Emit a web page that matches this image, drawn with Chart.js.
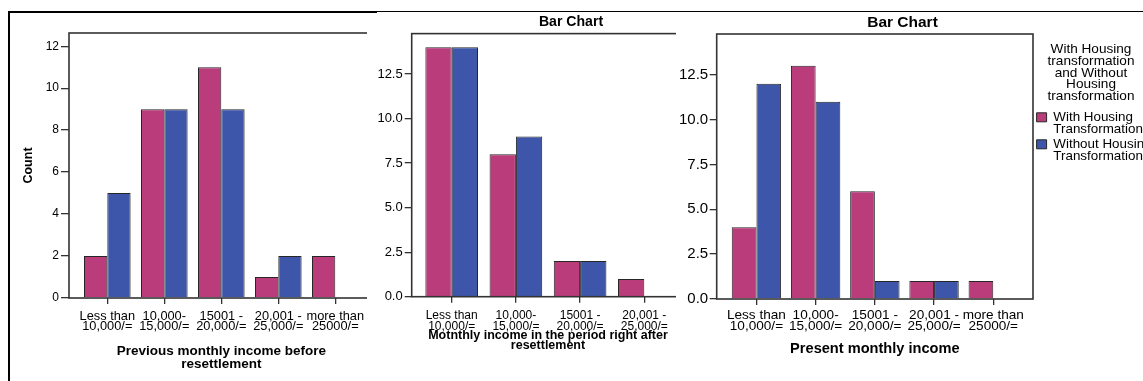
<!DOCTYPE html>
<html>
<head>
<meta charset="utf-8">
<script src="https://cdn.jsdelivr.net/npm/chart.js@4.4.1/dist/chart.umd.min.js"></script>
<style>
html, body { margin: 0; padding: 0; background: #fff; }
body { width: 1143px; height: 381px; overflow: hidden; position: relative; }
.pane { position: absolute; background: #fff; overflow: hidden; }
canvas { position: absolute; display: block; }
.line { position: absolute; background: #000; z-index: 10; }
</style>
</head>
<body>
<div class="pane" style="left:10px;top:13px;width:366px;height:368px;z-index:1"><canvas id="c1" width="366" height="368" style="left:0;top:0"></canvas></div>
<div class="pane" style="left:367px;top:13px;width:408px;height:368px;z-index:2"><canvas id="c2" width="408" height="368" style="left:0;top:0"></canvas></div>
<div class="pane" style="left:676px;top:13px;width:467px;height:368px;z-index:3"><canvas id="c3" width="493" height="368" style="left:-20px;top:0"></canvas></div>
<div class="line" style="left:8px;top:11px;width:2px;height:370px"></div>
<div class="line" style="left:8px;top:11px;width:369px;height:2px"></div>
<div class="line" style="left:377px;top:11px;width:766px;height:1px"></div>
<script>
// ---- Data ----
const incomeCategories5 = [
  ['Less than', '10,000/='],
  ['10,000-', '15,000/='],
  ['15001 -', '20,000/='],
  ['20,001 -', '25,000/='],
  ['more than', '25000/=']
];
const incomeCategories4 = [
  ['Less than', '10,000/='],
  ['10,000-', '15,000/='],
  ['15001 -', '20,000/='],
  ['20,001 -', '25,000/=']
];
const seriesNames = ['With Housing Transformation', 'Without Housing Transformation'];
const legendLines = [['With Housing', 'Transformation'], ['Without Housing', 'Transformation']];
const legendTitle = ['With Housing', 'transformation', 'and Without', 'Housing', 'transformation'];

const previousWith    = [2, 9, 11, 1, 2];
const previousWithout = [5, 9, 9, 2, null];
const afterWith       = [14, 8, 2, 1];
const afterWithout    = [14, 9, 2, null];
const presentWith     = [4, 13, 6, 1, 1];
const presentWithout  = [12, 11, 1, 1, null];

const titlePrevious = ['Previous monthly income before', 'resettlement'];
const titleAfter = ['Motnthly income in the period right after', 'resettlement'];
const titlePresent = 'Present monthly income';
const chartTitle = 'Bar Chart';
const yTitle = 'Count';

// ---- Styling ----
const MAG = '#BA3C7B', BLU = '#3D56AA', EDGE = '#262626';
const FONT = "'Liberation Sans', Arial, sans-serif";

const framePlugin = {
  id: 'frame',
  afterDatasetsDraw(chart) {
    const a = chart.chartArea, c = chart.ctx;
    c.save();
    c.strokeStyle = '#333';
    c.lineWidth = 1.6;
    c.strokeRect(a.left, a.top, a.right - a.left, a.bottom - a.top);
    c.restore();
  }
};

function toPoints(vals) { return vals.map((v, i) => ({ x: i, y: v })); }

function build(id, o) {
  const scales = {
    x: {
      type: 'linear', offset: false,
      min: -o.xPad, max: o.cats.length - 1 + o.xPad,
      afterFit: s => { s.height = o.xH; },
      grid: { display: true, offset: false, drawOnChartArea: false, drawTicks: true, tickLength: 6, color: '#333', lineWidth: 1.3 },
      border: { display: false },
      ticks: {
        stepSize: 1, autoSkip: false, maxRotation: 0, minRotation: 0, includeBounds: false,
        padding: o.xTickPad, color: '#000',
        font: { family: FONT, size: o.xFont, lineHeight: o.xLH },
        callback: v => (Number.isInteger(v) && o.cats[v]) ? o.cats[v] : ''
      },
      title: {
        display: true, text: o.xTitle, color: '#000',
        font: { family: FONT, size: o.xTitleSize, weight: 'bold', lineHeight: o.xTitleLH },
        padding: { top: 0, bottom: o.xTitlePadB }
      }
    },
    y: {
      min: 0, max: o.yMax,
      afterFit: s => { s.width = o.yW; },
      grid: { display: true, drawOnChartArea: false, drawTicks: true, tickLength: o.yTL, color: '#333', lineWidth: 1.3 },
      border: { display: false },
      ticks: {
        stepSize: o.yStep, includeBounds: false, padding: o.yTickPad, color: '#000',
        font: { family: FONT, size: o.yFont },
        callback: v => o.yDec ? v.toFixed(1) : String(v)
      },
      title: o.yTitleOpt || { display: false }
    }
  };
  if (o.rightGap) {
    scales.yGap = {
      position: 'right', display: true,
      grid: { display: false }, border: { display: false }, ticks: { display: false },
      afterFit: s => { s.width = o.rightGap; }
    };
  }
  return new Chart(document.getElementById(id), {
    type: 'bar',
    data: {
      datasets: [
        { label: seriesNames[0], data: toPoints(o.withVals), backgroundColor: MAG, borderColor: EDGE, borderWidth: 1,
          categoryPercentage: o.catPct, barPercentage: 1 },
        { label: seriesNames[1], data: toPoints(o.withoutVals), backgroundColor: BLU, borderColor: EDGE, borderWidth: 1,
          categoryPercentage: o.catPct, barPercentage: 1 }
      ]
    },
    options: {
      responsive: false, animation: false, devicePixelRatio: 1,
      layout: { padding: o.pad },
      plugins: {
        legend: o.legend || { display: false },
        title: o.title || { display: false },
        tooltip: { enabled: false }
      },
      scales
    },
    plugins: [framePlugin]
  });
}

// Panel 1
build('c1', {
  withVals: previousWith, withoutVals: previousWithout, cats: incomeCategories5, catPct: 0.818,
  pad: { top: 20, right: 2.4, bottom: 0, left: 0 },
  xPad: 0.672, xH: 83, xTickPad: 7.2, xFont: 12.8, xLH: 0.82,
  xTitle: titlePrevious, xTitleSize: 13.5, xTitleLH: 0.91, xTitlePadB: 10.85,
  yMax: 12.63, yStep: 2, yW: 59, yTL: 8, yTickPad: 2, yFont: 12, yDec: false,
  yTitleOpt: { display: true, text: yTitle, color: '#000', font: { family: FONT, size: 12.5, weight: 'bold', lineHeight: 1.2 }, padding: { top: 11.5, bottom: 0 } }
});

// Panel 2
build('c2', {
  withVals: afterWith, withoutVals: afterWithout, cats: incomeCategories4, catPct: 0.82,
  pad: { top: 0, right: 0, bottom: 0, left: 0 }, rightGap: 90.7,
  title: { display: true, text: chartTitle, color: '#000', font: { family: FONT, size: 14.1, weight: 'bold', lineHeight: 1.2 }, padding: { top: 0.5, bottom: 3.2 } },
  xPad: 0.623, xH: 84.3, xTickPad: 7.8, xFont: 12, xLH: 0.92,
  xTitle: titleAfter, xTitleSize: 12.5, xTitleLH: 0.8, xTitlePadB: 30.5,
  yMax: 14.77, yStep: 2.5, yW: 44.7, yTL: 7, yTickPad: 2, yFont: 13, yDec: true
});

// Panel 3
build('c3', {
  withVals: presentWith, withoutVals: presentWithout, cats: incomeCategories5, catPct: 0.834,
  pad: { top: 0, right: 0, bottom: 0, left: 0 },
  title: { display: true, text: chartTitle, color: '#000', font: { family: FONT, size: 15.5, weight: 'bold', lineHeight: 1.2 }, padding: { top: 0, bottom: 2.4 } },
  legend: {
    display: true, position: 'right', align: 'start', fullSize: false, maxWidth: 116,
    title: { display: true, text: legendTitle, color: '#000', position: 'center',
      font: { family: FONT, size: 13.6, lineHeight: 0.868 }, padding: { top: 8.5, bottom: 52.7 } },
    labels: {
      color: '#000', boxWidth: 10, boxHeight: 9, padding: 3.6,
      font: { family: FONT, size: 13.4, lineHeight: 0.873 },
      generateLabels: chart => Chart.defaults.plugins.legend.labels.generateLabels(chart)
        .map((it, i) => Object.assign(it, { text: legendLines[i] }))
    }
  },
  xPad: 0.671, xH: 82, xTickPad: 5, xFont: 13.6, xLH: 0.79,
  xTitle: titlePresent, xTitleSize: 14.6, xTitleLH: 1.2, xTitlePadB: 22.9,
  yMax: 14.77, yStep: 2.5, yW: 60.7, yTL: 7, yTickPad: 1.5, yFont: 15, yDec: true
});
</script>
</body>
</html>
